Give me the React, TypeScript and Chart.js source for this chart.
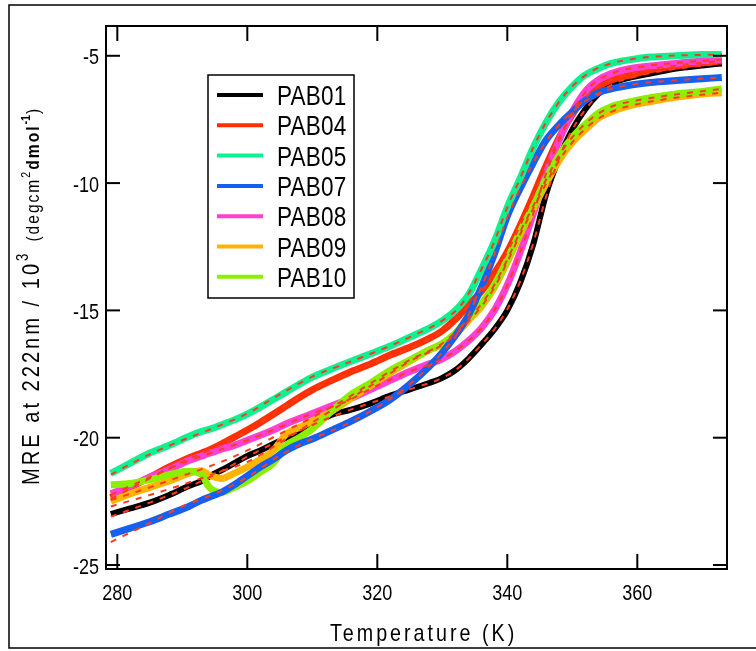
import React, { useEffect, useRef } from "react";
import { Chart, registerables } from "chart.js";

Chart.register(...registerables);

// ---------- data ----------
const TEMPS = [279, 282, 285, 288, 291, 293, 294, 295, 296, 298, 300, 302, 304, 306, 308, 310, 313, 316, 319, 322, 325, 328, 330, 332, 334, 336, 338, 340, 342, 344, 346, 348, 350, 352, 354, 356, 359, 362, 366, 370, 373];

const PAB01 = [-23.0, -22.78, -22.55, -22.25, -21.9, -21.7, -21.55, -21.4, -21.28, -21.0, -20.72, -20.5, -20.25, -20.0, -19.8, -19.5, -19.1, -18.9, -18.65, -18.35, -18.1, -17.85, -17.65, -17.35, -16.9, -16.35, -15.75, -15.0, -13.9, -12.4, -10.4, -9.0, -7.9, -7.1, -6.5, -6.1, -5.85, -5.7, -5.5, -5.38, -5.3];
const PAB04 = [-22.35, -21.95, -21.55, -21.15, -20.8, -20.6, -20.5, -20.38, -20.25, -19.98, -19.7, -19.4, -19.08, -18.75, -18.42, -18.12, -17.75, -17.4, -17.1, -16.75, -16.45, -16.1, -15.8, -15.35, -14.8, -14.25, -13.55, -12.7, -11.65, -10.5, -9.3, -8.2, -7.3, -6.6, -6.2, -5.95, -5.75, -5.55, -5.4, -5.28, -5.2];
const PAB05 = [-21.4, -21.0, -20.6, -20.3, -19.95, -19.75, -19.68, -19.6, -19.5, -19.3, -19.07, -18.8, -18.5, -18.2, -17.9, -17.62, -17.3, -17.0, -16.7, -16.4, -16.05, -15.7, -15.4, -15.0, -14.4, -13.4, -12.3, -10.95, -9.8, -8.6, -7.6, -6.8, -6.2, -5.75, -5.5, -5.3, -5.15, -5.05, -5.0, -4.95, -4.95];
const PAB07 = [-23.8, -23.55, -23.3, -23.0, -22.7, -22.45, -22.35, -22.25, -22.15, -21.85, -21.5, -21.15, -20.85, -20.5, -20.25, -20.05, -19.7, -19.35, -18.95, -18.5, -17.9, -17.2, -16.65, -16.0, -15.2, -14.1, -12.8, -11.3, -10.2, -9.2, -8.3, -7.7, -7.2, -6.75, -6.45, -6.3, -6.15, -6.05, -5.97, -5.9, -5.85];
const PAB08 = [-22.2, -21.9, -21.55, -21.25, -20.9, -20.72, -20.62, -20.55, -20.45, -20.3, -20.1, -19.9, -19.7, -19.45, -19.25, -19.05, -18.75, -18.45, -18.1, -17.75, -17.4, -17.1, -16.9, -16.6, -16.2, -15.7, -15.0, -14.0, -12.7, -11.2, -9.6, -8.3, -7.2, -6.4, -5.95, -5.7, -5.5, -5.4, -5.3, -5.2, -5.15];
const PAB09 = [-22.5, -22.2, -21.95, -21.7, -21.4, -21.3, -21.45, -21.55, -21.6, -21.4, -21.15, -20.85, -20.5, -19.85, -19.6, -19.35, -18.95, -18.45, -17.95, -17.45, -17.0, -16.55, -16.35, -15.95, -15.4, -14.85, -14.1, -13.1, -12.0, -11.0, -10.0, -9.1, -8.4, -7.9, -7.45, -7.2, -6.95, -6.8, -6.62, -6.5, -6.45];
const PAB10 = [-21.85, -21.8, -21.65, -21.45, -21.32, -21.45, -21.9, -22.1, -22.15, -21.95, -21.7, -21.35, -21.0, -20.3, -20.0, -19.65, -18.95, -18.3, -17.85, -17.35, -16.95, -16.55, -16.3, -15.9, -15.3, -14.75, -14.0, -13.0, -11.9, -10.9, -9.8, -8.9, -8.2, -7.7, -7.25, -7.0, -6.8, -6.65, -6.5, -6.4, -6.3];

const FIT_TEMPS = [279, 285, 290, 295, 300, 305, 310, 315, 320, 325, 330, 333, 336, 338, 340, 342, 344, 346, 348, 350, 353, 356, 360, 365, 373];
const FIT01 = [-23.1, -22.55, -22.05, -21.45, -20.75, -20.1, -19.5, -18.98, -18.55, -18.1, -17.65, -17.15, -16.35, -15.75, -14.95, -13.85, -12.35, -10.5, -9.0, -7.9, -6.8, -6.15, -5.8, -5.55, -5.3];
const FIT04 = [-22.4, -21.6, -20.95, -20.4, -19.75, -18.9, -18.1, -17.55, -17.0, -16.5, -15.8, -15.1, -14.25, -13.55, -12.7, -11.65, -10.5, -9.3, -8.2, -7.3, -6.4, -5.95, -5.65, -5.42, -5.2];
const FIT05 = [-21.45, -20.65, -20.1, -19.6, -19.05, -18.3, -17.6, -17.1, -16.6, -16.05, -15.4, -14.75, -13.4, -12.3, -10.95, -9.8, -8.6, -7.6, -6.8, -6.2, -5.6, -5.3, -5.1, -5.0, -4.95];
const FIT07 = [-24.1, -23.35, -22.7, -22.2, -21.55, -20.7, -20.05, -19.5, -18.8, -17.9, -16.65, -15.65, -14.1, -12.8, -11.35, -10.2, -9.2, -8.35, -7.7, -7.2, -6.6, -6.3, -6.1, -5.98, -5.85];
const FIT08 = [-22.25, -21.55, -21.0, -20.55, -20.1, -19.58, -19.05, -18.6, -17.95, -17.4, -16.9, -16.4, -15.7, -15.0, -14.0, -12.7, -11.2, -9.6, -8.3, -7.2, -6.15, -5.7, -5.45, -5.3, -5.15];
const FIT09 = [-22.7, -22.25, -21.85, -21.4, -20.95, -20.2, -19.4, -18.6, -17.8, -17.0, -16.35, -15.7, -14.85, -14.1, -13.1, -12.0, -11.0, -10.0, -9.1, -8.4, -7.65, -7.2, -6.9, -6.68, -6.45];
const FIT10 = [-22.45, -21.95, -21.5, -21.05, -20.5, -19.85, -19.2, -18.5, -17.7, -16.95, -16.3, -15.6, -14.75, -14.0, -13.0, -11.9, -10.9, -9.85, -8.9, -8.2, -7.45, -7.0, -6.75, -6.55, -6.3];

const SERIES_LABELS = ["PAB01", "PAB04", "PAB05", "PAB07", "PAB08", "PAB09", "PAB10"];
const SERIES_VALUES = [PAB01, PAB04, PAB05, PAB07, PAB08, PAB09, PAB10];
const FIT_VALUES = [FIT01, FIT04, FIT05, FIT07, FIT08, FIT09, FIT10];
const SERIES_COLORS = ["#000000", "#FF3000", "#10F090", "#1560F0", "#FF40D2", "#FFB400", "#8CEE00"];
const SERIES_LAYER = [7, 6, 1, 2, 5, 4, 3];
const FIT_COLOR = "#FF3A1E";

const X_TICKS = [280, 300, 320, 340, 360];
const Y_TICKS = [-25, -20, -15, -10, -5];
const X_TITLE = "Temperature (K)";

const FONT = "'Liberation Sans', Arial, Helvetica, sans-serif";
const SQUEEZE = 0.82;

function drawNarrow(
  ctx: CanvasRenderingContext2D,
  text: string,
  x: number,
  y: number,
  size: number,
  opts: { bold?: boolean; align?: CanvasTextAlign; baseline?: CanvasTextBaseline; spacing?: number } = {}
): number {
  ctx.save();
  ctx.translate(x, y);
  ctx.scale(SQUEEZE, 1);
  ctx.font = `${opts.bold ? "bold " : ""}${size}px ${FONT}`;
  (ctx as any).letterSpacing = `${(opts.spacing || 0) / SQUEEZE}px`;
  ctx.textAlign = opts.align || "left";
  ctx.textBaseline = opts.baseline || "alphabetic";
  ctx.fillStyle = "#000";
  ctx.fillText(text, 0, 0);
  const w = ctx.measureText(text).width * SQUEEZE;
  ctx.restore();
  return w;
}

const decorPlugin = {
  id: "decor",
  afterDraw(chart: any) {
    const ctx = chart.ctx as CanvasRenderingContext2D;
    const { left, right, top, bottom } = chart.chartArea;
    const xs = chart.scales.x;
    const ys = chart.scales.y;
    ctx.save();
    ctx.strokeStyle = "#000";
    ctx.lineCap = "butt";
    // outer frame
    ctx.lineWidth = 1.5;
    ctx.strokeRect(9, 5, 800, 643);
    // plot box
    ctx.lineWidth = 2;
    ctx.strokeRect(left, top, right - left, bottom - top);
    const line = (x1: number, y1: number, x2: number, y2: number) => {
      ctx.beginPath();
      ctx.moveTo(x1, y1);
      ctx.lineTo(x2, y2);
      ctx.stroke();
    };
    // inward ticks + labels
    X_TICKS.forEach((v) => {
      const px = xs.getPixelForValue(v);
      line(px, bottom, px, bottom - 15);
      line(px, top, px, top + 15);
      drawNarrow(ctx, String(v), px, bottom + 30.5, 22, { align: "center" });
    });
    Y_TICKS.forEach((v) => {
      const py = ys.getPixelForValue(v);
      line(left, py, left + 14, py);
      line(right, py, right - 14, py);
      drawNarrow(ctx, String(v), left - 7, py + 8.5, 22, { align: "right" });
    });

    // x title
    drawNarrow(ctx, X_TITLE, 330, 641, 24, { spacing: 3 });

    // y title (rotated)
    ctx.save();
    ctx.translate(38.5, 485);
    ctx.rotate(-Math.PI / 2);
    let x = 0;
    x += drawNarrow(ctx, "MRE at 222nm / 10", x, 0, 24.5, { spacing: 3 });
    x += drawNarrow(ctx, "3", x, -11, 16);
    x += 12;
    x += drawNarrow(ctx, "(degcm", x, 0, 19, { spacing: 2 });
    x += drawNarrow(ctx, "2", x, -9, 13);
    x += 2;
    x += drawNarrow(ctx, "dmol", x, 0, 19, { bold: true, spacing: 2 });
    x += drawNarrow(ctx, "-1", x, -9, 13, { bold: true });
    x += 1;
    drawNarrow(ctx, ")", x, 0, 19);
    ctx.restore();

    // legend
    ctx.lineWidth = 1.5;
    ctx.strokeStyle = "#000";
    ctx.strokeRect(208, 75, 146, 223);
    SERIES_LABELS.forEach((lab, i) => {
      const y = 95 + i * 30.3;
      ctx.strokeStyle = SERIES_COLORS[i];
      ctx.lineWidth = 4;
      line(217, y, 263, y);
      drawNarrow(ctx, lab, 277, y + 10, 27.5, { spacing: 0.2 });
    });
    ctx.restore();
  },
};

export default function App() {
  const ref = useRef<HTMLCanvasElement | null>(null);

  useEffect(() => {
    if (!ref.current) return;
    const datasets: any[] = [];
    SERIES_LABELS.forEach((lab, i) => {
      datasets.push({
        label: lab,
        data: TEMPS.map((t, k) => ({ x: t, y: SERIES_VALUES[i][k] })),
        borderColor: SERIES_COLORS[i],
        backgroundColor: SERIES_COLORS[i],
        borderWidth: i === 0 ? 6 : 7,
        pointRadius: 0,
        fill: false,
        cubicInterpolationMode: "monotone",
        order: SERIES_LAYER[i],
      });
    });
    SERIES_LABELS.forEach((lab, i) => {
      datasets.push({
        label: lab + " fit",
        data: FIT_TEMPS.map((t, k) => ({ x: t, y: FIT_VALUES[i][k] })),
        borderColor: FIT_COLOR,
        borderWidth: 2,
        borderDash: [6, 7],
        pointRadius: 0,
        fill: false,
        cubicInterpolationMode: "monotone",
        order: 0,
      });
    });

    const chart = new Chart(ref.current, {
      type: "line",
      data: { datasets },
      options: {
        animation: false,
        responsive: false,
        maintainAspectRatio: false,
        layout: { padding: { left: 0, top: 26, right: 29, bottom: 0 } },
        plugins: { legend: { display: false }, tooltip: { enabled: false }, title: { display: false } },
        scales: {
          x: {
            type: "linear",
            min: 278.26,
            max: 373.8,
            grid: { display: false },
            border: { display: false },
            afterFit: (s: any) => {
              s.height = 82;
            },
            ticks: { display: false, stepSize: 20, includeBounds: false },
          },
          y: {
            type: "linear",
            min: -25.157,
            max: -3.83,
            grid: { display: false },
            border: { display: false },
            afterFit: (s: any) => {
              s.width = 106;
            },
            ticks: { display: false, stepSize: 5, includeBounds: false },
          },
        },
      },
      plugins: [decorPlugin],
    } as any);
    return () => chart.destroy();
  }, []);

  return (
    <div style={{ position: "fixed", left: 0, top: 0, width: 756, height: 651, background: "#fff" }}>
      <canvas ref={ref} width={756} height={651} style={{ display: "block", width: 756, height: 651 }} />
    </div>
  );
}
